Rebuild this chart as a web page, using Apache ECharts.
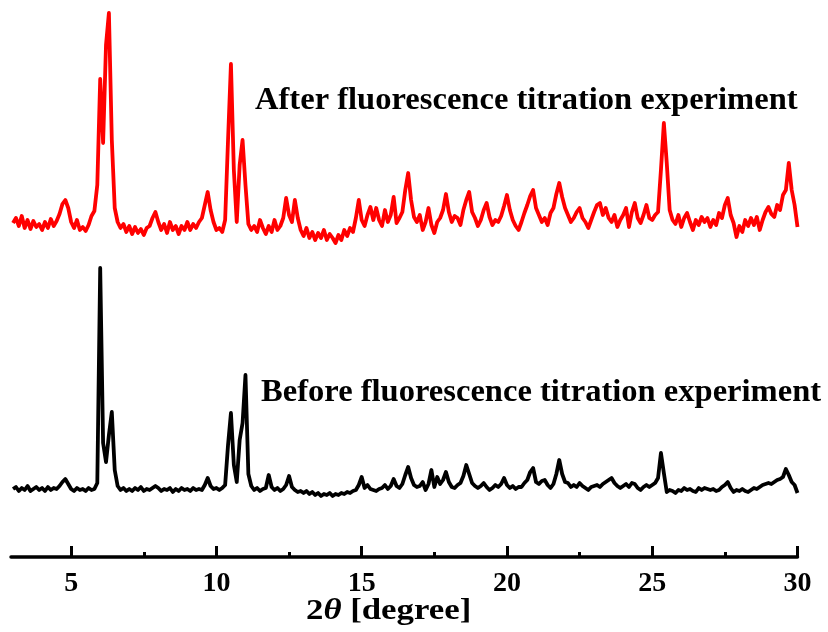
<!DOCTYPE html>
<html>
<head>
<meta charset="utf-8">
<script src="https://cdn.jsdelivr.net/npm/echarts@6/dist/echarts.min.js"></script>
<style>
  html, body { margin: 0; padding: 0; background: #fff; }
  #chart { width: 828px; height: 632px; }
</style>
</head>
<body>
<div id="chart"></div>
<script>
// PXRD patterns, 2θ from 3.0° to 30.0° sampled every 0.1° (one row per degree).
// Intensities in arbitrary units; the "after" trace is already offset upward.
const angleStart = 3.0;
const angleStep = 0.1;

const afterTitration = [
  334,339,331,341,329,337,328,336,330,333,   // 3.x
  327,335,329,338,331,336,343,353,357,349,   // 4.x
  335,329,337,327,330,326,332,341,346,372,   // 5.x
  478,414,512,544,417,349,335,329,333,325,   // 6.x
  331,323,330,324,328,322,329,331,339,345,   // 7.x
  335,327,333,324,335,327,331,323,331,327,   // 8.x
  335,327,333,329,335,339,352,365,347,335,   // 9.x
  327,329,325,337,417,493,387,335,392,417,   // 10.x
  372,333,327,331,325,337,329,323,331,325,   // 11.x
  337,327,331,339,359,342,335,357,339,327,   // 12.x
  321,329,319,325,317,324,319,327,317,323,   // 13.x
  319,314,322,317,327,321,329,325,339,357,   // 14.x
  337,331,342,350,337,349,337,331,347,335,   // 15.x
  342,360,334,339,345,367,384,357,340,335,   // 16.x
  342,327,335,349,332,324,335,339,347,363,   // 17.x
  345,335,341,339,332,347,357,365,345,339,   // 18.x
  331,337,347,354,340,332,337,335,341,351,   // 19.x
  362,347,337,331,327,335,344,352,361,367,   // 20.x
  349,342,335,339,332,344,349,363,374,360,   // 21.x
  349,342,335,339,345,349,339,335,329,337,   // 22.x
  345,352,354,342,349,339,335,342,330,337,   // 23.x
  342,349,330,345,354,339,334,342,352,339,   // 24.x
  337,342,345,387,434,394,347,337,333,342,   // 25.x
  330,339,344,335,327,337,332,340,335,339,   // 26.x
  330,337,332,344,339,352,359,342,334,320,   // 27.x
  331,325,337,331,339,332,340,327,337,345,   // 28.x
  350,343,340,352,347,362,367,394,367,352,   // 29.x
  330                                        // 30.0
];

const beforeTitration = [
  68,70,66,69,67,71,66,68,70,67,        // 3.x
  69,66,70,67,69,68,71,75,78,73,        // 4.x
  68,66,69,67,68,66,69,67,68,74,        // 5.x
  289,114,95,122,145,87,71,67,69,66,    // 6.x
  68,66,69,67,70,66,68,67,69,71,        // 7.x
  69,66,68,67,69,65,68,66,69,67,        // 8.x
  68,66,69,67,68,67,72,79,71,68,        // 9.x
  69,67,69,72,112,144,92,75,117,134,    // 10.x
  182,83,71,67,69,66,68,69,82,70,       // 11.x
  67,69,66,68,72,81,70,67,65,66,        // 12.x
  64,66,63,65,62,64,61,63,62,64,        // 13.x
  61,63,62,64,63,65,64,66,67,72,        // 14.x
  80,69,72,68,67,66,68,69,72,68,        // 15.x
  71,78,71,69,73,82,90,79,72,70,        // 16.x
  71,75,67,73,87,70,80,73,77,85,        // 17.x
  75,70,69,72,74,81,92,83,74,71,        // 18.x
  69,71,74,70,67,69,72,70,73,79,        // 19.x
  72,69,71,68,70,70,74,77,85,89,        // 20.x
  75,73,76,77,72,69,73,83,97,83,        // 21.x
  75,74,70,72,70,74,71,69,67,70,        // 22.x
  71,72,70,73,75,77,79,74,71,69,        // 23.x
  71,73,70,74,73,69,67,70,72,70,        // 24.x
  72,74,79,104,84,65,67,66,64,67,       // 25.x
  66,69,67,68,66,65,69,67,69,68,        // 26.x
  67,68,66,67,70,72,75,69,65,67,        // 27.x
  66,68,66,65,67,69,68,70,72,73,        // 28.x
  74,73,75,77,78,80,88,82,75,72,        // 29.x
  64                                    // 30.0
];

const majorTicks = [5, 10, 15, 20, 25, 30];
const minorTicks = [7.5, 12.5, 17.5, 22.5, 27.5];
const labelAfter = 'After fluorescence titration experiment';
const labelBefore = 'Before fluorescence titration experiment';

const serif = '"Liberation Serif", "Times New Roman", serif';

function toPairs(values) {
  return values.map((v, i) => [Math.round((angleStart + i * angleStep) * 10) / 10, v]);
}

const chart = echarts.init(document.getElementById('chart'), null, { renderer: 'canvas' });

const xMin = 2.93, xMax = 30;

chart.setOption({
  animation: false,
  backgroundColor: '#fff',
  grid: { left: 11, right: 30.5, top: 7, bottom: 75 },
  xAxis: [
    {
      type: 'value', min: xMin, max: xMax,
      axisLine: { show: true, lineStyle: { color: '#000', width: 3.5 } },
      axisTick: { show: true, inside: true, length: 11, customValues: majorTicks,
                  lineStyle: { color: '#000', width: 3 } },
      axisLabel: { show: true, customValues: majorTicks, margin: 13,
                   color: '#000', fontFamily: serif, fontWeight: 'bold', fontSize: 28 },
      splitLine: { show: false }
    },
    {
      type: 'value', min: xMin, max: xMax, position: 'bottom',
      axisLine: { show: false },
      axisTick: { show: true, inside: true, length: 5, customValues: minorTicks,
                  lineStyle: { color: '#000', width: 3 } },
      axisLabel: { show: false },
      splitLine: { show: false }
    }
  ],
  yAxis: { type: 'value', min: 0, max: 550, show: false, splitLine: { show: false } },
  series: [
    {
      name: labelAfter, type: 'line', xAxisIndex: 0,
      data: toPairs(afterTitration), showSymbol: false,
      lineStyle: { color: '#ff0000', width: 3.8, join: 'round' }
    },
    {
      name: labelBefore, type: 'line', xAxisIndex: 0,
      data: toPairs(beforeTitration), showSymbol: false,
      lineStyle: { color: '#000000', width: 3.8, join: 'round' }
    }
  ],
  graphic: [
    {
      type: 'text', x: 255, y: 85, scaleX: 1.05,
      style: { text: labelAfter, fill: '#000', font: 'bold 31px ' + serif }
    },
    {
      type: 'text', x: 261, y: 377, scaleX: 1.05,
      style: { text: labelBefore, fill: '#000', font: 'bold 31px ' + serif }
    },
    {
      type: 'text', x: 306, y: 596, scaleX: 1.16,
      style: {
        text: '{n|2}{t|θ}{n| [degree]}',
        rich: {
          n: { fontFamily: serif, fontWeight: 'bold', fontSize: 30, fill: '#000' },
          t: { fontFamily: serif, fontWeight: 'bold', fontStyle: 'italic', fontSize: 30, fill: '#000' }
        }
      }
    }
  ]
});
</script>
</body>
</html>
